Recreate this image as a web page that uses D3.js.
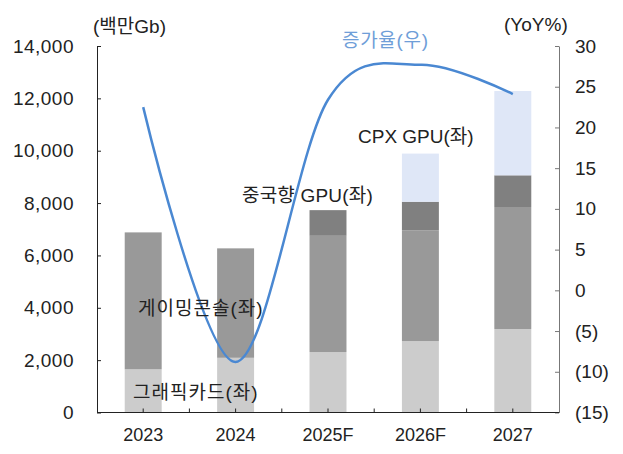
<!DOCTYPE html>
<html>
<head>
<meta charset="utf-8">
<script src="https://cdn.jsdelivr.net/npm/d3@7"></script>
<style>
  body { margin: 0; background: #fff; }
  text { font-family: "Liberation Sans", "Noto Sans CJK KR", sans-serif; fill: #222; }
</style>
</head>
<body>
<script>
// Data
var categories = ["2023", "2024", "2025F", "2026F", "2027"];
var graphics = [1650, 2090, 2310, 2730, 3190];   // 그래픽카드
var gaming = [5230, 4180, 4440, 4230, 4660];     // 게이밍콘솔
var chinaGpu = [0, 0, 980, 1090, 1210];          // 중국향 GPU
var cpxGpu = [0, 0, 0, 1840, 3220];              // CPX GPU
var yoy = [22.5, -8.8, 23.4, 27.7, 24.1];        // 증가율
var leftTicks = [0, 2000, 4000, 6000, 8000, 10000, 12000, 14000];
var rightTicks = [-15, -10, -5, 0, 5, 10, 15, 20, 25, 30];

var W = 623, H = 454;
var plotL = 97, plotR = 559, plotT = 46, plotB = 412.5;

var svg = d3.select("body").append("svg")
  .attr("width", W)
  .attr("height", H);

var x = d3.scaleBand()
  .domain(categories)
  .range([plotL, plotR])
  .paddingInner(0.6)
  .paddingOuter(0.3);

var y = d3.scaleLinear().domain([0, 14000]).range([plotB, plotT]);
var y2 = d3.scaleLinear().domain([-15, 30]).range([plotB, plotT]);

// stack the series
var keys = ["graphics", "gaming", "china", "cpx"];
var colors = { graphics: "#cccccc", gaming: "#999999", china: "#808080", cpx: "#dfe7f7" };
var rows = categories.map(function(c, i) {
  return { cat: c, graphics: graphics[i], gaming: gaming[i], china: chinaGpu[i], cpx: cpxGpu[i] };
});
var series = d3.stack().keys(keys)(rows);

svg.append("g").selectAll("g")
  .data(series)
  .enter().append("g")
    .style("fill", function(s) { return colors[s.key]; })
  .selectAll("rect")
  .data(function(s) { return s.filter(function(d) { return d[1] > d[0]; }); })
  .enter().append("rect")
    .attr("x", function(d) { return x(d.data.cat); })
    .attr("y", function(d) { return y(d[1]); })
    .attr("width", x.bandwidth())
    .attr("height", function(d) { return y(d[0]) - y(d[1]); });

// Left axis
var yAxis = svg.append("g")
  .attr("transform", "translate(" + plotL + ",0)")
  .call(d3.axisLeft(y).tickValues(leftTicks).tickFormat(d3.format(",")).tickSizeInner(-4).tickSizeOuter(0).tickPadding(23));
yAxis.select(".domain").attr("stroke", "#222");
yAxis.selectAll(".tick line").attr("stroke", "#222");
yAxis.selectAll("text").style("font-size", "19px").style("letter-spacing", "0.5px").style("fill", "#222");

// Right axis
var fmtPct = function(d) { return d < 0 ? "(" + Math.abs(d) + ")" : d; };
var y2Axis = svg.append("g")
  .attr("transform", "translate(" + plotR + ",0)")
  .call(d3.axisRight(y2).tickValues(rightTicks).tickFormat(fmtPct).tickSizeInner(-4).tickSizeOuter(0).tickPadding(16));
y2Axis.select(".domain").attr("stroke", "#777");
y2Axis.selectAll(".tick line").attr("stroke", "#777");
y2Axis.selectAll("text").style("font-size", "19px").style("fill", "#222");

// Bottom axis
var xAxis = svg.append("g")
  .attr("transform", "translate(0," + plotB + ")")
  .call(d3.axisBottom(x).tickSize(0).tickPadding(16));
xAxis.select(".domain").attr("stroke", "#222").attr("d", "M" + plotL + ",0H" + plotR);
xAxis.selectAll("text").style("font-size", "18px").style("fill", "#222");

// ticks at band centres and band boundaries, pointing up
var step = x.step();
var tickXs = categories.map(function(c) { return x(c) + x.bandwidth() / 2; });
categories.slice(1).forEach(function(c) { tickXs.push(x(c) + x.bandwidth() / 2 - step / 2); });
xAxis.selectAll(".mtick")
  .data(tickXs)
  .enter().append("line")
    .attr("class", "mtick")
    .attr("x1", function(d) { return d; })
    .attr("x2", function(d) { return d; })
    .attr("y1", 0)
    .attr("y2", -4)
    .attr("stroke", "#222");

// YoY line
var line = d3.line()
  .x(function(d, i) { return x(categories[i]) + x.bandwidth() / 2; })
  .y(function(d) { return y2(d); })
  .curve(d3.curveCardinal.tension(0));

svg.append("path")
  .datum(yoy)
  .attr("fill", "none")
  .attr("stroke", "#4a88d2")
  .attr("stroke-width", 2.5)
  .attr("d", line);

// Unit labels
svg.append("text").attr("x", 93).attr("y", 33).style("font-size", "19px").text("(백만Gb)");
svg.append("text").attr("x", 504).attr("y", 31).style("font-size", "19px").text("(YoY%)");

// Series labels
var labels = [
  { t: "증가율(우)", x: 342, y: 47, c: "#6f9ed8", ls: 0.7 },
  { t: "CPX GPU(좌)", x: 358, y: 143, c: "#222", ls: 0 },
  { t: "중국향 GPU(좌)", x: 242, y: 202, c: "#222", ls: 0.2 },
  { t: "게이밍콘솔(좌)", x: 138, y: 315, c: "#222", ls: 1 },
  { t: "그래픽카드(좌)", x: 133, y: 399, c: "#222", ls: 1 }
];
svg.selectAll(".lbl")
  .data(labels)
  .enter().append("text")
    .attr("class", "lbl")
    .attr("x", function(d) { return d.x; })
    .attr("y", function(d) { return d.y; })
    .style("font-size", "19px")
    .style("letter-spacing", function(d) { return d.ls + "px"; })
    .style("fill", function(d) { return d.c; })
    .text(function(d) { return d.t; });
</script>
</body>
</html>
